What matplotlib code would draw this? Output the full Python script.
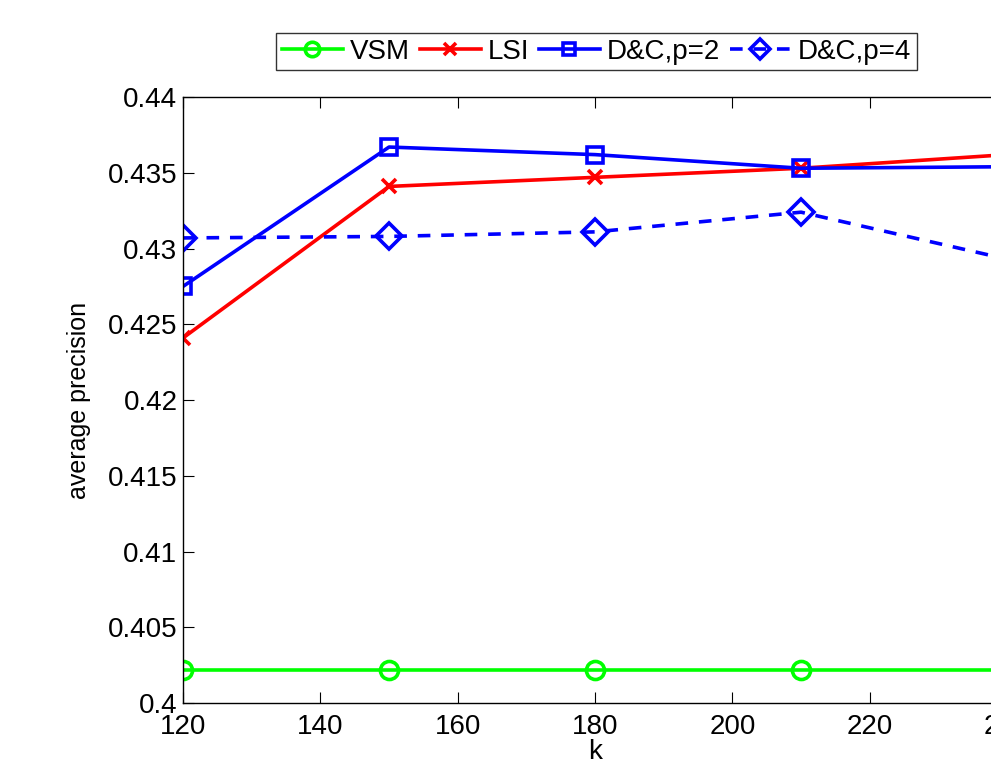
import numpy as np
import matplotlib
matplotlib.use('Agg')
from matplotlib import pyplot as plt

plt.rcParams['font.family'] = ['Liberation Sans', 'DejaVu Sans']

k = [120, 150, 180, 210, 240]
vsm = [0.4022, 0.4022, 0.4022, 0.4022, 0.4022]
lsi = [0.4241, 0.4341, 0.4347, 0.4353, 0.4362]
dc_p2 = [0.4275, 0.4367, 0.4362, 0.4353, 0.4354]
dc_p4 = [0.4307, 0.4308, 0.4311, 0.4324, 0.4293]

fig = plt.figure(figsize=(9.91, 7.69), dpi=100)
ax = fig.add_axes([0.1847, 0.0858, 0.8315, 0.788])

ax.plot(k, vsm, color='#00ff00', lw=2.6, marker='o', ms=13, mfc='none', mew=2.6, label='VSM')
ax.plot(k, lsi, color='#ff0000', lw=2.6, marker='x', ms=10, mew=2.6, label='LSI')
ax.plot(k, dc_p2, color='#0000ff', lw=2.6, marker='s', ms=11, mfc='none', mew=2.6, label='D&C,p=2')
ax.plot(k, dc_p4, color='#0000ff', lw=2.6, ls='--', dashes=(3.5, 3), marker='D', ms=13, mfc='none', mew=2.6, label='D&C,p=4')

ax.set_xlim(120, 240)
ax.set_ylim(0.4, 0.44)
ax.set_xticks(np.arange(120, 241, 20))
ax.set_yticks(np.arange(0.4, 0.4401, 0.005))
ax.set_yticklabels(['0.4', '0.405', '0.41', '0.415', '0.42', '0.425', '0.43', '0.435', '0.44'])
ax.tick_params(direction='in', labelsize=20, length=8, width=0.8, pad=4, top=True, right=True)
ax.tick_params(axis='x', pad=8)
for s in ax.spines.values():
    s.set_linewidth(1.0)

ax.set_xlabel('k', fontsize=20, labelpad=-1)
ax.set_ylabel('average precision', fontsize=18, labelpad=12)

leg = fig.legend(loc='center', bbox_to_anchor=(0.602, 0.933), ncol=4, fontsize=20,
                 frameon=True, fancybox=False, edgecolor='black', handlelength=2.2,
                 handletextpad=0.25, columnspacing=0.35, borderpad=0.2, markerscale=0.8)
leg.get_frame().set_linewidth(1.0)

plt.savefig('out.png', dpi=100)
